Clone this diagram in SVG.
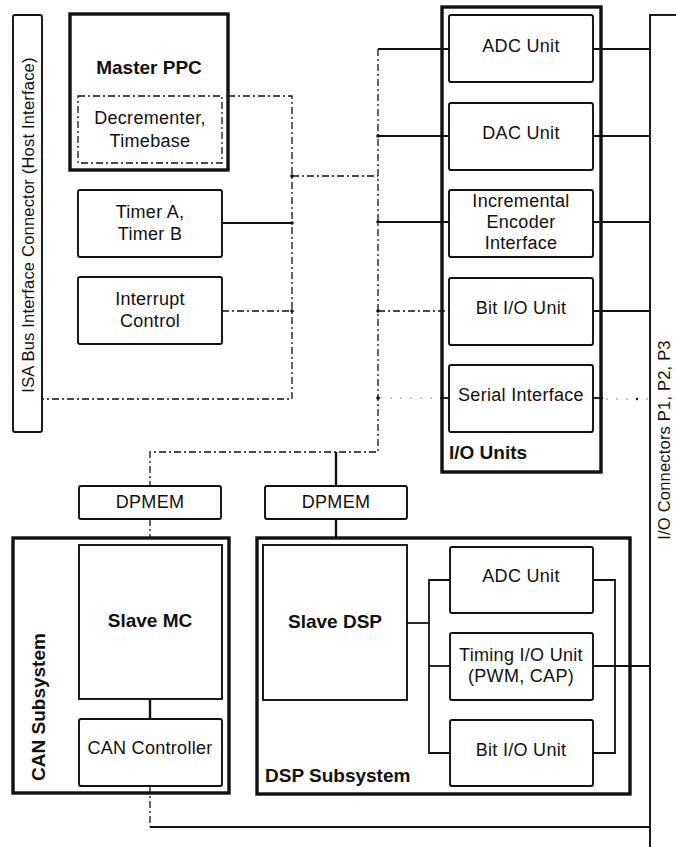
<svg xmlns="http://www.w3.org/2000/svg" width="676" height="847" viewBox="0 0 676 847">
  <style>
    text { font-family: "Liberation Sans", Arial, sans-serif; font-size: 18px; letter-spacing: 0.3px; fill: #111; text-anchor: middle; dominant-baseline: central; }
    .b { font-weight: bold; font-size: 19px; letter-spacing: 0; }
    .st { text-anchor: start; }
    .side { font-size: 16.5px; letter-spacing: 0.2px; }
    .thick { fill: none; stroke: #111; stroke-width: 3.4; }
    .box { fill: #fff; stroke: #111; stroke-width: 1.9; }
    .frame { fill: none; stroke: #111; stroke-width: 1.9; }
    .dbox { fill: #fff; stroke: #111; stroke-width: 1.3; stroke-dasharray: 7 3 2 3; }
    .ln { fill: none; stroke: #111; stroke-width: 1.8; }
    .hv { fill: none; stroke: #111; stroke-width: 2.4; }
    .dash { fill: none; stroke: #111; stroke-width: 1.3; stroke-dasharray: 7 3 2 3; }
    .faint { fill: none; stroke: #999; stroke-width: 1; stroke-dasharray: 2 8; }
    .dot { fill: #111; }
  </style>
  <rect width="676" height="847" fill="#fff"/>

  <!-- connectors -->
  <g id="connectors">
    <!-- host side bus -->
    <path class="dash" d="M228,96 H292 V399 H43"/>
    <path class="ln" d="M222,223 H292"/>
    <path class="dash" d="M222,311 H292"/>
    <path class="dash" d="M292,176 H378"/>
    <!-- I/O bus -->
    <path class="dash" d="M378,49 V452 H150 V486"/>
    <path class="ln" d="M378,49 H449"/>
    <path class="ln" d="M378,136 H449"/>
    <path class="ln" d="M378,222 H449"/>
    <path class="dash" d="M378,311 H449"/>
    <path class="faint" d="M380,398 H440"/>
    <path class="ln" d="M440,398 H449"/>
    <path class="hv" d="M336,452 V486"/>
    <path class="dash" d="M150,519 V538"/>
    <path class="hv" d="M336,519 V538"/>
    <!-- I/O units to connector -->
    <path class="ln" d="M593,49 H650"/>
    <path class="ln" d="M593,136 H650"/>
    <path class="ln" d="M593,222 H650"/>
    <path class="ln" d="M593,311 H650"/>
    <path class="ln" d="M593,398 H603"/>
    <path class="faint" d="M606,399 H648"/>
    <!-- CAN -->
    <path class="hv" d="M150,699 V719"/>
    <path class="dash" d="M150,786 V827"/>
    <path class="ln" d="M150,827 H650"/>
    <!-- DSP internal buses -->
    <path class="ln" d="M450,580 H429 V753 H450"/>
    <path class="ln" d="M407,623 H429"/>
    <path class="ln" d="M429,666 H450"/>
    <path class="ln" d="M593,580 H615 V753 H593"/>
    <path class="ln" d="M593,666 H650"/>
    <!-- junction dots -->
    <circle class="dot" cx="292" cy="176" r="1.8"/>
    <circle class="dot" cx="292" cy="223" r="1.8"/>
    <circle class="dot" cx="292" cy="311" r="1.8"/>
    <circle class="dot" cx="378" cy="136" r="1.8"/>
    <circle class="dot" cx="378" cy="222" r="1.8"/>
    <circle class="dot" cx="378" cy="311" r="1.8"/>
    <circle class="dot" cx="378" cy="398" r="1.8"/>
    <circle class="dot" cx="637" cy="399" r="1.2"/>
  </g>

  <!-- ISA bus connector -->
  <g id="isa">
    <rect class="box" x="13" y="15" width="29" height="417" rx="2"/>
    <text class="side" transform="translate(28,225) rotate(-90)">ISA Bus Interface Connector (Host Interface)</text>
  </g>

  <!-- I/O connectors -->
  <g id="io-connectors">
    <rect class="frame" x="650" y="15" width="40" height="845"/>
    <text class="side" transform="translate(664,440) rotate(-90)">I/O Connectors P1, P2, P3</text>
  </g>

  <g id="master-ppc">
    <rect class="thick" x="70" y="14" width="158" height="156"/>
    <text class="b" x="149" y="67">Master PPC</text>
  </g>
  <g id="decrementer">
    <rect class="dbox" x="78" y="96" width="144" height="67"/>
    <text x="150" y="118">Decrementer,</text>
    <text x="150" y="141">Timebase</text>
  </g>
  <g id="timers">
    <rect class="box" x="78" y="190" width="144" height="67" rx="2"/>
    <text x="150" y="212">Timer A,</text>
    <text x="150" y="234">Timer B</text>
  </g>
  <g id="interrupt">
    <rect class="box" x="78" y="277" width="144" height="67" rx="2"/>
    <text x="150" y="299">Interrupt</text>
    <text x="150" y="321">Control</text>
  </g>

  <!-- I/O units group -->
  <g id="io-units">
    <rect class="thick" x="442" y="7" width="159" height="465"/>
    <text class="b st" x="449" y="452">I/O Units</text>
  </g>
  <g id="io-adc">
    <rect class="box" x="449" y="15" width="144" height="67" rx="2"/>
    <text x="521" y="46">ADC Unit</text>
  </g>
  <g id="io-dac">
    <rect class="box" x="449" y="103" width="144" height="67" rx="2"/>
    <text x="521" y="133">DAC Unit</text>
  </g>
  <g id="io-encoder">
    <rect class="box" x="449" y="190" width="144" height="67" rx="2"/>
    <text x="521" y="201">Incremental</text>
    <text x="521" y="222">Encoder</text>
    <text x="521" y="243">Interface</text>
  </g>
  <g id="io-bit">
    <rect class="box" x="449" y="278" width="144" height="67" rx="2"/>
    <text x="521" y="308">Bit I/O Unit</text>
  </g>
  <g id="io-serial">
    <rect class="box" x="449" y="365" width="144" height="67" rx="2"/>
    <text x="521" y="395">Serial Interface</text>
  </g>

  <g id="dpmem-can">
    <rect class="box" x="79" y="486" width="142" height="33" rx="2"/>
    <text x="150" y="502">DPMEM</text>
  </g>
  <g id="dpmem-dsp">
    <rect class="box" x="265" y="486" width="142" height="33" rx="2"/>
    <text x="336" y="502">DPMEM</text>
  </g>

  <!-- CAN subsystem -->
  <g id="can-subsystem">
    <rect class="thick" x="13" y="538" width="216" height="255"/>
    <text class="b" transform="translate(38,707) rotate(-90)">CAN Subsystem</text>
  </g>
  <g id="slave-mc">
    <rect class="box" x="79" y="545" width="143" height="154"/>
    <text class="b" x="150" y="620">Slave MC</text>
  </g>
  <g id="can-controller">
    <rect class="box" x="79" y="719" width="143" height="67" rx="2"/>
    <text x="150" y="748">CAN Controller</text>
  </g>

  <!-- DSP subsystem -->
  <g id="dsp-subsystem">
    <rect class="thick" x="257" y="538" width="373" height="256"/>
    <text class="b st" x="265" y="775">DSP Subsystem</text>
  </g>
  <g id="slave-dsp">
    <rect class="box" x="263" y="545" width="144" height="155"/>
    <text class="b" x="335" y="621">Slave DSP</text>
  </g>
  <g id="dsp-adc">
    <rect class="box" x="450" y="547" width="143" height="66" rx="2"/>
    <text x="521" y="576">ADC Unit</text>
  </g>
  <g id="dsp-timing">
    <rect class="box" x="450" y="633" width="143" height="67" rx="2"/>
    <text x="521" y="655">Timing I/O Unit</text>
    <text x="521" y="676">(PWM, CAP)</text>
  </g>
  <g id="dsp-bit">
    <rect class="box" x="450" y="720" width="143" height="66" rx="2"/>
    <text x="521" y="750">Bit I/O Unit</text>
  </g>
</svg>
